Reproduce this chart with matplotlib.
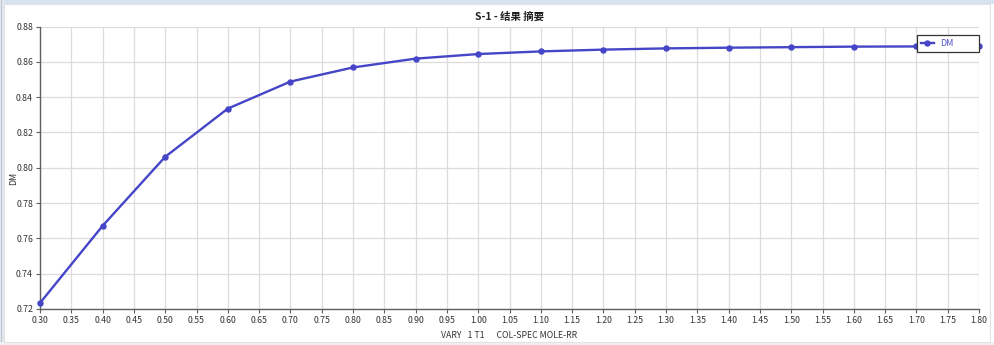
import matplotlib
matplotlib.use("Agg")
import matplotlib.pyplot as plt
from matplotlib.patches import Rectangle
import numpy as np

plt.rcParams['font.family'] = ['Noto Sans CJK SC', 'DejaVu Sans']

x_vals = [0.30, 0.40, 0.50, 0.60, 0.70, 0.80, 0.90, 1.00, 1.10, 1.20, 1.30, 1.40, 1.50, 1.60, 1.70, 1.80]
dm_vals = [0.7234, 0.7671, 0.8062, 0.8335, 0.8488, 0.8568, 0.8618, 0.8644, 0.8659, 0.8669, 0.8676, 0.8680, 0.8683, 0.8686, 0.8687, 0.8688]
x_ticks = np.round(np.arange(0.30, 1.8001, 0.05), 2)
y_ticks = [0.72, 0.74, 0.76, 0.78, 0.80, 0.82, 0.84, 0.86, 0.88]

title = "S-1 - 结果 摘要"
xlabel = "VARY   1 T1      COL-SPEC MOLE-RR"
ylabel = "DM"
series_name = "DM"

line_color = "#4545c8"

fig = plt.figure(figsize=(9.94, 3.45), dpi=100, facecolor="white")

# window frame
fig.patches.append(Rectangle((0, 1 - 4/345), 1, 4/345, transform=fig.transFigure,
                             facecolor="#d6e2ef", edgecolor="none", zorder=0))
fig.patches.append(Rectangle((0, 0), 4/994, 1, transform=fig.transFigure,
                             facecolor="#e4e8ee", edgecolor="none", zorder=0))
fig.patches.append(Rectangle((1/994, 0), 1.2/994, 1, transform=fig.transFigure,
                             facecolor="#b8c4d2", edgecolor="none", zorder=0))
fig.patches.append(Rectangle((0, 0), 1, 3/345, transform=fig.transFigure,
                             facecolor="#eef0f3", edgecolor="none", zorder=0))
fig.patches.append(Rectangle((4/994, 3/345), (994-8)/994, (345-7)/345, transform=fig.transFigure,
                             facecolor="none", edgecolor="#e2e2e2", linewidth=0.8, zorder=0))

ax = fig.add_axes([40/994, 1 - 309/345, (979-40)/994, (309-26.5)/345])
ax.set_facecolor("white")

ax.plot(x_vals, dm_vals, color=line_color, linewidth=1.7, marker="o",
        markersize=3.6, label=series_name, zorder=3, clip_on=False)

ax.set_xlim(0.30, 1.80)
ax.set_ylim(0.72, 0.88)
ax.set_xticks(x_ticks)
ax.set_xticklabels([f"{t:.2f}" for t in x_ticks])
ax.set_yticks(y_ticks)
ax.set_yticklabels([f"{t:.2f}" for t in y_ticks])

ax.grid(True, color="#dcdcdc", linewidth=0.9, zorder=0)
ax.set_axisbelow(True)
for s in ["top", "right"]:
    ax.spines[s].set_visible(False)
for s in ["left", "bottom"]:
    ax.spines[s].set_color("#606060")
    ax.spines[s].set_linewidth(1.0)

ax.tick_params(axis="both", labelsize=6.3, colors="#333333", length=3, width=0.8,
               direction="out", pad=2)
ax.tick_params(axis="both", color="#606060")

ax.set_title(title, fontsize=7.5, fontweight="bold", color="#222222", pad=5)
ax.set_xlabel(xlabel, fontsize=6.3, color="#333333", labelpad=4)
fig.text(14/994, 1 - 178/345, ylabel, rotation=90, fontsize=6.3, color="#333333",
         ha="center", va="center")

leg = ax.legend(loc="upper left", bbox_to_anchor=(0.934, 0.913, 0.066, 0.057),
                mode="expand", fontsize=6.5,
                frameon=True, fancybox=False, edgecolor="#333333",
                borderpad=0.45, handlelength=1.4, handletextpad=0.7,
                borderaxespad=0)
leg.get_frame().set_linewidth(0.9)
leg.get_frame().set_alpha(1.0)
for t in leg.get_texts():
    t.set_color("#5555cc")
leg.set_zorder(5)

fig.savefig("out.png", dpi=100, facecolor="white")
